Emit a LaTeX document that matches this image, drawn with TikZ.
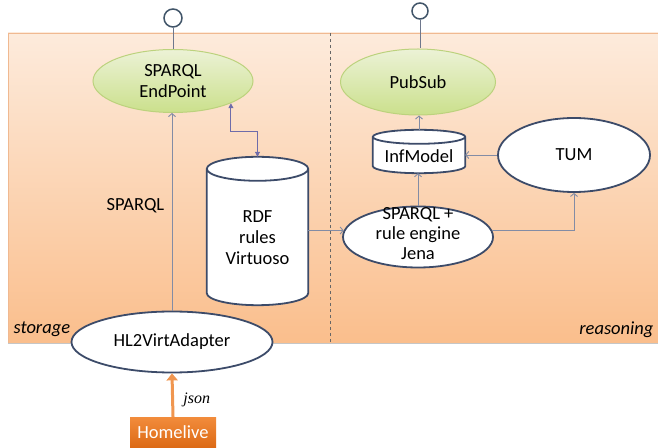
\documentclass[tikz,border=0pt]{standalone}
\usepackage{fontspec}
\setmainfont{Carlito}
\newfontfamily\serifit{Liberation Serif}
\usetikzlibrary{shapes.geometric,arrows.meta,calc}
\definecolor{bgtop}{RGB}{253,235,220}
\definecolor{bgbot}{RGB}{250,190,140}
\definecolor{bgedge}{RGB}{240,185,145}
\definecolor{gtop}{RGB}{236,242,214}
\definecolor{gbot}{RGB}{203,224,140}
\definecolor{gedge}{RGB}{188,210,125}
\definecolor{nodeedge}{RGB}{60,75,105}
\definecolor{conncol}{RGB}{130,140,165}
\definecolor{dblcol}{RGB}{110,108,170}
\definecolor{circcol}{RGB}{65,85,105}
\definecolor{hometop}{RGB}{242,140,60}
\definecolor{homebot}{RGB}{220,105,20}
\definecolor{jsoncol}{RGB}{240,150,80}
\newcommand\drawcyl[2]{%
  \draw[cylst] let \p1=(#1.north west), \p2=(#1.south east), \n1={(\x2-\x1)/2} in
    (\x1,\y1-#2pt) -- (\x1,\y2+#2pt)
    arc[start angle=180,end angle=360,x radius=\n1,y radius=#2pt]
    -- (\x2,\y1-#2pt)
    arc[start angle=0,end angle=180,x radius=\n1,y radius=#2pt] -- cycle
    (\x1,\y1-#2pt) arc[start angle=180,end angle=360,x radius=\n1,y radius=#2pt];}
\begin{document}
\begin{tikzpicture}[x=1pt,y=1pt,
  every node/.style={font=\fontsize{18.5}{21}\selectfont},
  txt/.style={align=center},
  wnode/.style={ellipse, draw=nodeedge, line width=1.8pt, fill=white, inner sep=0pt},
  gnode/.style={ellipse, draw=gedge, line width=1pt, top color=gtop, bottom color=gbot, inner sep=0pt},
  cylbox/.style={rectangle, inner sep=0pt},
  cylst/.style={draw=nodeedge, line width=1.8pt, fill=white},
  conn/.style={draw=conncol, line width=0.9pt, -{Straight Barb[length=3pt,width=7pt]}},
  dbl/.style={draw=dblcol, line width=0.9pt, {Triangle[length=5pt,width=5pt]}-{Triangle[length=5pt,width=5pt]}},
  plug/.style={circle, draw=circcol, line width=1.5pt, fill=white, inner sep=0pt},
  plugline/.style={draw=conncol!85!black, line width=1pt},
  homebox/.style={rectangle, top color=hometop, bottom color=homebot, text=white, inner sep=0pt},
  jsonarrow/.style={draw=jsoncol, line width=3pt, -{Triangle[length=7pt,width=11pt]}}
]
\useasboundingbox (0,0) rectangle (658,447);
% background
\shade[top color=bgtop,bottom color=bgbot] (8,104) rectangle (662,414);
\draw[bgedge, line width=0.8pt] (8,104) rectangle (662,414);
\draw[gray!45, line width=1.2pt] (8,103.2) -- (662,103.2);
\draw[dashed, black!60, line width=0.6pt] (330,414) -- (330,104);
% plugs
\node[plug, minimum size=18pt] (c1) at (173,429) {};
\node[plug, minimum size=16pt] (c2) at (420,436) {};
% nodes
\node[gnode, minimum width=160pt, minimum height=63pt,
      label={[txt]center:{SPARQL\\EndPoint}}] (ep) at (173,366) {};
\node[gnode, minimum width=155pt, minimum height=66pt] (ps) at (418,365) {PubSub};
\node[wnode, minimum width=152pt, minimum height=74pt] (tum) at (574,292) {TUM};
\node[wnode, minimum width=150pt, minimum height=61pt,
      label={[txt, yshift=3pt, font=\fontsize{18.5}{20}\selectfont]center:{SPARQL +\\rule engine\\Jena}}] (jena) at (418,210) {};
\node[wnode, minimum width=201pt, minimum height=61pt] (hl) at (172,105) {HL2VirtAdapter};
\node[homebox, minimum width=86pt, minimum height=31pt] (home) at (173,14.5) {Homelive};
% cylinders
\node[cylbox, minimum width=101pt, minimum height=148pt] (rdf) at (257.5,216) {};
\drawcyl{rdf}{12}
\node[txt] (rdftext) at ([yshift=-7pt]rdf.center) {RDF\\rules\\Virtuoso};
\node[cylbox, minimum width=92pt, minimum height=43pt] (inf) at (419,295.5) {};
\drawcyl{inf}{7}
\node[txt] (inftext) at ([yshift=-5pt]inf.center) {InfModel};
% labels
\node[anchor=west, font=\fontsize{18.5}{21}\selectfont\itshape] (storage) at (10,118) {storage};
\node[anchor=east, font=\fontsize{18.5}{21}\selectfont\itshape] (reasoning) at (657,117) {reasoning};
% connectors
\draw[plugline] (c1) -- (ep.north);
\draw[plugline] (c2) -- (c2 |- ps.north);
\draw[conn] (hl.north) -- (hl.north |- ep.south)
  node[pos=0.53, left=4pt, text=black] (sparqllbl) {SPARQL};
\coordinate (bend) at (0,316);
\draw[dbl] (ep.-21) -- (ep.-21 |- bend) -- (rdf.north |- bend) -- (rdf.north);
\draw[conn] (rdf.east |- jena.175) -- (jena.175);
\draw[conn] (jena.north) -- (jena.north |- inf.south);
\draw[conn] (inf.north) -- (inf.north |- ps.south);
\draw[conn] (tum.west) -- (tum.west -| inf.east);
\draw[conn] (jena.5) -| (tum.south);
\draw[jsonarrow] (home.north) -- (hl.south)
  node[pos=0.4, right=6pt, font=\fontsize{16}{19}\serifit\itshape] (jsonlbl) {json};
\end{tikzpicture}
\end{document}
